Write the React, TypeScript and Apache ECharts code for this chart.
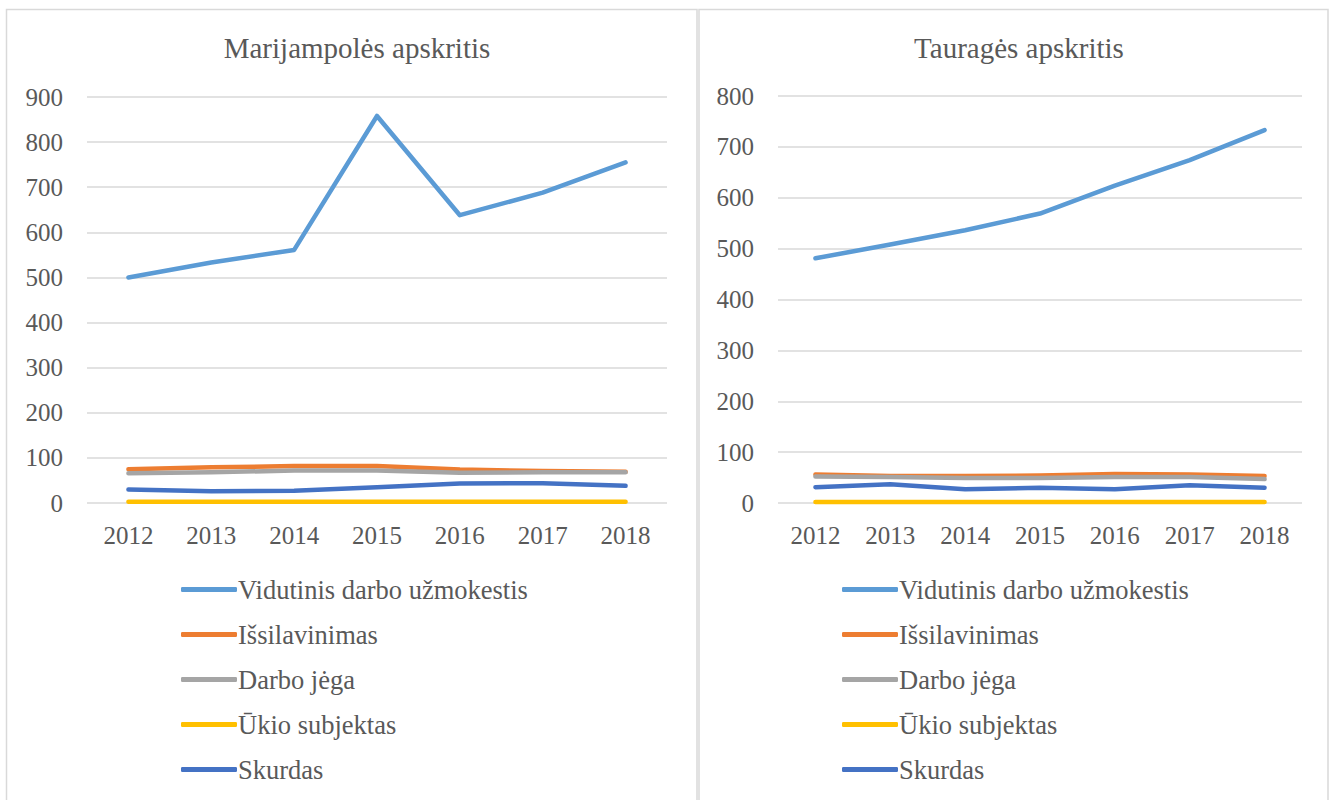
import React, { useEffect, useRef } from "react";
import * as echarts from "echarts";

const years = ["2012", "2013", "2014", "2015", "2016", "2017", "2018"];
const seriesNames = [
  "Vidutinis darbo užmokestis",
  "Išsilavinimas",
  "Darbo jėga",
  "Ūkio subjektas",
  "Skurdas",
];
const seriesColors = ["#5B9BD5", "#ED7D31", "#A5A5A5", "#FFC000", "#4472C4"];

// Marijampolės apskritis
const marVidutinis = [500, 533, 561, 858, 638, 688, 755];
const marIssilavinimas = [75, 79, 82, 82, 74, 71, 69];
const marDarboJega = [66, 68, 72, 72, 67, 68, 68];
const marUkio = [3, 3, 3, 3, 3, 3, 3];
const marSkurdas = [30, 26, 27, 35, 43, 44, 38];

// Tauragės apskritis
const taurVidutinis = [481, 508, 536, 569, 624, 674, 733];
const taurIssilavinimas = [56, 53, 53, 54, 57, 56, 53];
const taurDarboJega = [52, 51, 49, 49, 51, 51, 47];
const taurUkio = [2, 2, 2, 2, 2, 2, 2];
const taurSkurdas = [31, 37, 27, 30, 27, 35, 30];

const titles = ["Marijampolės apskritis", "Tauragės apskritis"];
const yMax = [900, 800];

const FONT = "Liberation Serif";
const TEXT = "#595959";
const GRID = "#D9D9D9";

export default function App() {
  const ref = useRef<HTMLDivElement>(null);

  useEffect(() => {
    if (!ref.current) return;
    const chart = echarts.init(ref.current, undefined, { renderer: "svg" });

    const panels = [
      [marVidutinis, marIssilavinimas, marDarboJega, marUkio, marSkurdas],
      [taurVidutinis, taurIssilavinimas, taurDarboJega, taurUkio, taurSkurdas],
    ];

    const series: any[] = [];
    panels.forEach((data, gi) => {
      data.forEach((vals, si) => {
        series.push({
          type: "line",
          name: seriesNames[si],
          xAxisIndex: gi,
          yAxisIndex: gi,
          data: vals,
          smooth: false,
          showSymbol: false,
          symbol: "none",
          lineStyle: { width: 4.5, color: seriesColors[si], cap: "round", join: "round" },
          itemStyle: { color: seriesColors[si] },
        });
      });
    });

    const axisLabel = { color: TEXT, fontFamily: FONT, fontSize: 25 };

    const legendCommon = {
      orient: "vertical",
      top: 571,
      itemWidth: 56,
      itemHeight: 5,
      itemGap: 18,
      icon: "roundRect",
      data: seriesNames,
      textStyle: { color: TEXT, fontFamily: FONT, fontSize: 26.5, lineHeight: 27, padding: [0, 0, 0, -4] },
    };

    chart.setOption({
      animation: false,
      color: seriesColors,
      textStyle: { fontFamily: FONT, color: TEXT },
      graphic: [
        {
          type: "rect",
          shape: { x: 6.5, y: 9.5, width: 690.5, height: 800 },
          style: { fill: "none", stroke: GRID, lineWidth: 1.5 },
          silent: true,
        },
        {
          type: "rect",
          shape: { x: 699, y: 9.5, width: 629, height: 800 },
          style: { fill: "none", stroke: GRID, lineWidth: 1.5 },
          silent: true,
        },
      ],
      title: [
        {
          text: titles[0],
          left: 352,
          top: 28,
          textAlign: "center",
          textStyle: { color: TEXT, fontFamily: FONT, fontSize: 29, fontWeight: "normal" },
        },
        {
          text: titles[1],
          left: 1014,
          top: 28,
          textAlign: "center",
          textStyle: { color: TEXT, fontFamily: FONT, fontSize: 29, fontWeight: "normal" },
        },
      ],
      legend: [
        { ...legendCommon, left: 176 },
        { ...legendCommon, left: 837 },
      ],
      grid: [
        { left: 87, right: 1334 - 667, top: 97, bottom: 800 - 503, containLabel: false },
        { left: 778, right: 1334 - 1302, top: 96, bottom: 800 - 503, containLabel: false },
      ],
      xAxis: [0, 1].map((i) => ({
        type: "category",
        gridIndex: i,
        data: years,
        boundaryGap: true,
        axisLine: { show: false },
        axisTick: { show: false },
        axisLabel: { ...axisLabel, margin: 20 },
      })),
      yAxis: [0, 1].map((i) => ({
        type: "value",
        gridIndex: i,
        min: 0,
        max: yMax[i],
        interval: 100,
        axisLine: { show: false },
        axisTick: { show: false },
        axisLabel: { ...axisLabel, margin: 24 },
        splitLine: { lineStyle: { color: GRID, width: 1.5 } },
      })),
      series,
    });

    return () => chart.dispose();
  }, []);

  return (
    <div
      ref={ref}
      style={{ position: "fixed", left: 0, top: 0, width: 1334, height: 800, background: "#fff" }}
    />
  );
}
